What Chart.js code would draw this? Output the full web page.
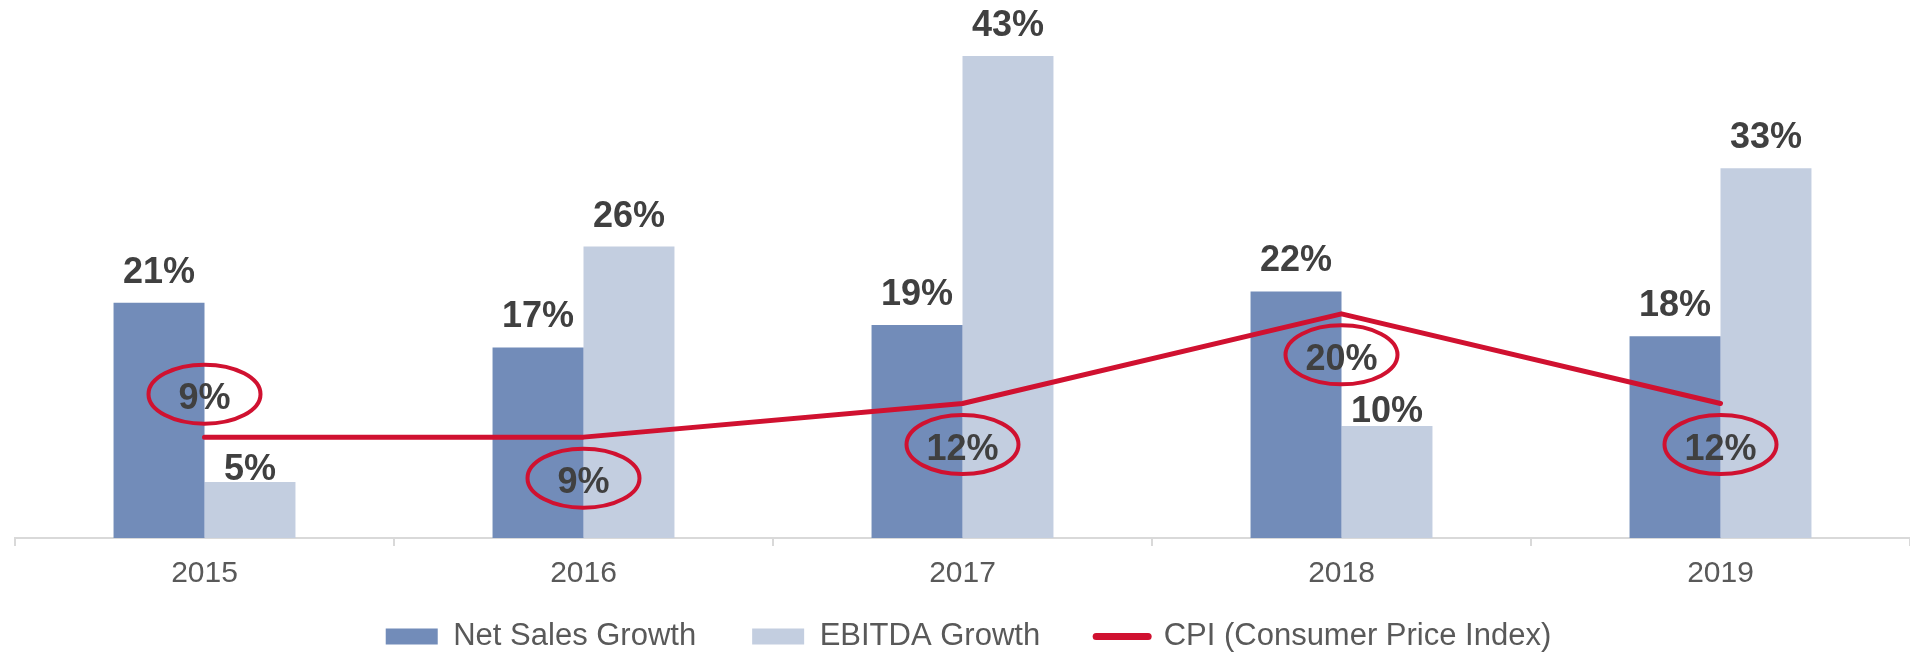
<!DOCTYPE html>
<html>
<head>
<meta charset="utf-8">
<title>Growth vs CPI</title>
<script src="https://cdn.jsdelivr.net/npm/chart.js@4.4.1/dist/chart.umd.min.js"></script>
<style>
  html, body { margin: 0; padding: 0; background: #ffffff; }
  #wrap { width: 1910px; height: 654px; }
</style>
</head>
<body>
<div id="wrap"><canvas id="chart" width="1910" height="654"></canvas></div>
<script>
// Yearly growth figures, in percent
const years = ['2015', '2016', '2017', '2018', '2019'];
const netSalesGrowth = [21, 17, 19, 22, 18];
const ebitdaGrowth = [5, 26, 43, 10, 33];
const cpiValues = [9, 9, 12, 20, 12];
const seriesNames = ['Net Sales Growth', 'EBITDA Growth', 'CPI (Consumer Price Index)'];

const FONT = "'Liberation Sans', Arial, sans-serif";
const BLUE = '#728cb9';
const LIGHT = '#c3cee0';
const RED = '#d01130';
const LABEL_DARK = '#404040';
const GREY_TEXT = '#595959';
const AXIS_GREY = '#d9d9d9';

// Percent labels above the bars, and circled labels next to the CPI line
const valueLabels = {
  id: 'valueLabels',
  afterDatasetsDraw(chart) {
    const ctx = chart.ctx;
    ctx.save();
    ctx.font = 'bold 36px ' + FONT;
    ctx.textAlign = 'center';
    ctx.textBaseline = 'alphabetic';
    chart.data.datasets.forEach((ds, i) => {
      const meta = chart.getDatasetMeta(i);
      if (!chart.isDatasetVisible(i)) return;
      meta.data.forEach((el, j) => {
        const text = ds.data[j] + '%';
        if (ds.type === 'line') {
          const above = ds.labelPlacement[j] === 'above';
          const baseY = above ? el.y - 28 : el.y + 56;
          const cy = baseY - 15;
          ctx.beginPath();
          ctx.ellipse(el.x, cy, 56, 29.5, 0, 0, Math.PI * 2);
          ctx.lineWidth = 4;
          ctx.strokeStyle = RED;
          ctx.stroke();
          ctx.fillStyle = LABEL_DARK;
          ctx.fillText(text, el.x, baseY);
        } else {
          ctx.fillStyle = LABEL_DARK;
          ctx.fillText(text, el.x, el.y - ds.labelGap[j]);
        }
      });
    });
    ctx.restore();
  }
};

// The category axis is kept short so the legend sits close under it;
// after layout its box is extended so the year labels are not clipped,
// and the legend row is nudged to sit centred under the labels.
const bottomRoom = {
  id: 'bottomRoom',
  afterLayout(chart) {
    const x = chart.scales.x;
    x.height = 60;
    x.bottom = x.top + 60;
    const lg = chart.legend;
    if (lg) { lg.left += 6; lg.right += 6; }
  }
};

new Chart(document.getElementById('chart'), {
  data: {
    labels: years,
    datasets: [
      {
        type: 'bar',
        label: seriesNames[0],
        data: netSalesGrowth,
        backgroundColor: BLUE,
        borderWidth: 0,
        order: 1,
        labelGap: [20, 20, 20, 20, 20]
      },
      {
        type: 'bar',
        label: seriesNames[1],
        data: ebitdaGrowth,
        backgroundColor: LIGHT,
        borderWidth: 0,
        order: 1,
        labelGap: [2, 20, 20, 4, 20]
      },
      {
        type: 'line',
        label: seriesNames[2],
        data: cpiValues,
        borderColor: RED,
        backgroundColor: RED,
        borderWidth: 5,
        borderCapStyle: 'round',
        borderJoinStyle: 'round',
        pointRadius: 0,
        pointHoverRadius: 0,
        tension: 0,
        fill: false,
        order: 0,
        labelPlacement: ['above', 'below', 'below', 'below', 'below']
      }
    ]
  },
  options: {
    responsive: false,
    animation: false,
    devicePixelRatio: 1,
    layout: { padding: { left: 15, right: 0, top: 0, bottom: -8 } },
    datasets: {
      bar: { categoryPercentage: 0.48, barPercentage: 1 }
    },
    scales: {
      x: {
        offset: true,
        grid: {
          display: true,
          offset: true,
          drawOnChartArea: false,
          drawTicks: true,
          tickLength: 8,
          color: AXIS_GREY,
          lineWidth: 2
        },
        border: { display: true, color: AXIS_GREY, width: 2 },
        ticks: {
          color: GREY_TEXT,
          font: { family: FONT, size: 30 },
          padding: 10,
          maxRotation: 0
        },
        afterFit(scale) { scale.height = 27; }
      },
      y: {
        display: false,
        min: 0,
        max: 48
      }
    },
    plugins: {
      tooltip: { enabled: false },
      legend: {
        position: 'bottom',
        fullSize: false,
        labels: {
          usePointStyle: true,
          pointStyleWidth: 52,
          boxHeight: 16,
          padding: 56,
          color: GREY_TEXT,
          font: { family: FONT, size: 31 },
          sort: (a, b) => a.datasetIndex - b.datasetIndex,
          generateLabels(chart) {
            return chart.data.datasets.map((ds, i) => {
              const isLine = ds.type === 'line';
              return {
                text: ds.label,
                datasetIndex: i,
                fillStyle: isLine ? ds.borderColor : ds.backgroundColor,
                strokeStyle: isLine ? ds.borderColor : ds.backgroundColor,
                lineWidth: isLine ? 7 : 0,
                lineCap: 'round',
                pointStyle: isLine ? 'line' : 'rect',
                hidden: !chart.isDatasetVisible(i),
                fontColor: GREY_TEXT
              };
            });
          }
        }
      }
    }
  },
  plugins: [valueLabels, bottomRoom]
});
</script>
</body>
</html>
